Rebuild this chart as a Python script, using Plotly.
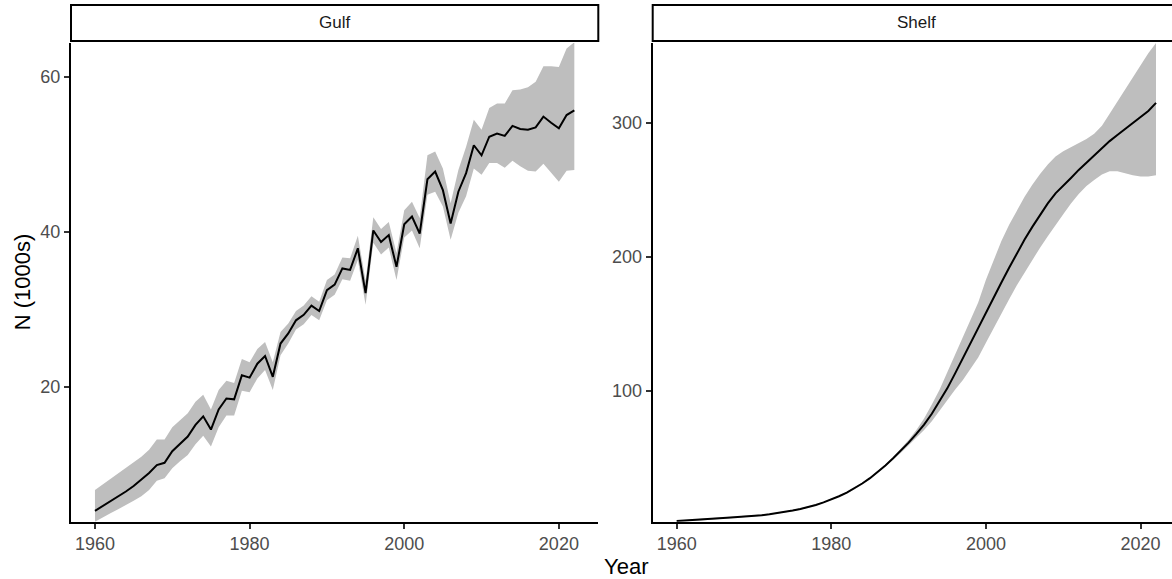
import plotly.graph_objects as go

# Years covered by both regions
years = list(range(1960, 2023))

# Gulf: estimated abundance (thousands) with interval bounds
gulf_mean = [4.0, 4.6, 5.3, 5.9, 6.5, 7.2, 8.0, 8.9, 9.9, 10.2,
             11.7, 12.6, 13.6, 15.1, 16.2, 14.5, 17.1, 18.5, 18.4, 21.5,
             21.2, 23.0, 24.0, 21.3, 25.6, 26.9, 28.6, 29.3, 30.5, 29.8,
             32.5, 33.2, 35.3, 35.1, 37.9, 32.1, 40.2, 38.7, 39.6, 35.5,
             41.0, 42.0, 39.8, 46.8, 47.8, 45.4, 41.1, 45.2, 47.6, 51.2,
             49.9, 52.3, 52.7, 52.4, 53.7, 53.3, 53.2, 53.5, 54.9, 54.1,
             53.4, 55.1, 55.7]
gulf_upper = [6.7, 7.4, 8.1, 8.8, 9.5, 10.2, 11.0, 11.9, 13.2, 13.2,
              14.8, 15.7, 16.6, 18.1, 19.0, 17.1, 19.6, 20.8, 20.5, 23.6,
              23.2, 24.9, 25.8, 23.2, 27.1, 28.2, 29.8, 30.5, 31.7, 31.0,
              33.8, 34.5, 36.7, 36.6, 39.5, 33.7, 41.9, 40.4, 41.3, 37.3,
              42.8, 43.9, 41.8, 49.9, 50.4, 48.2, 43.7, 48.0, 51.0, 54.5,
              53.2, 56.0, 56.6, 56.6, 58.3, 58.4, 58.7, 59.4, 61.4, 61.4,
              61.3, 63.7, 64.5]
gulf_lower = [2.6, 3.1, 3.7, 4.2, 4.7, 5.3, 5.9, 6.7, 7.9, 8.2,
              9.5, 10.4, 11.2, 12.6, 13.7, 12.3, 14.8, 16.3, 16.3, 19.5,
              19.3, 21.1, 22.2, 19.6, 24.1, 25.6, 27.4, 28.1, 29.3, 28.6,
              31.2, 31.9, 33.9, 33.7, 36.4, 30.6, 38.6, 37.1, 38.0, 33.8,
              39.3, 40.2, 37.9, 44.8, 45.2, 43.3, 39.0, 42.5, 44.6, 48.2,
              47.4, 48.9, 48.9, 48.3, 49.2, 48.5, 47.9, 47.8, 48.8, 47.6,
              46.5, 47.9, 48.0]

# Shelf: estimated abundance (thousands) with interval bounds
shelf_mean = [3.0, 3.3, 3.7, 4.1, 4.5, 4.9, 5.3, 5.7, 6.0, 6.3,
              6.8, 7.3, 8.0, 8.8, 9.8, 10.8, 12.0, 13.4, 15.0, 16.9,
              19.0, 21.5, 24.2, 27.4, 31.0, 35.0, 39.6, 44.5, 49.8, 55.5,
              61.5, 68.0, 75.0, 83.0, 92.0, 102.0, 113.0, 124.5, 136.0, 147.5,
              159.0, 170.0, 181.0, 192.0, 203.0, 213.0, 222.5, 231.5, 240.0, 247.5,
              253.0, 259.0, 265.0, 270.5, 276.0, 281.5, 286.5, 291.0, 295.5, 299.5,
              304.0, 309.0, 315.0]
shelf_upper = [3.4, 3.9, 4.4, 4.9, 5.3, 5.6, 5.9, 6.2, 6.5, 6.8,
               7.3, 7.8, 8.5, 9.3, 10.3, 11.3, 12.5, 13.9, 15.5, 17.4,
               19.5, 22.0, 24.7, 27.9, 31.5, 35.5, 40.2, 45.2, 50.7, 56.8,
               63.5, 71.0, 79.5, 90.0, 101.0, 114.0, 127.0, 140.0, 153.0, 166.0,
               183.0, 198.0, 212.0, 224.0, 235.0, 245.0, 254.0, 262.0, 269.0, 275.0,
               279.0, 282.0, 285.0, 288.0, 292.0, 298.0, 307.0, 316.0, 325.0, 334.0,
               343.0, 352.0, 359.7]
shelf_lower = [2.5, 2.8, 3.1, 3.4, 3.8, 4.2, 4.7, 5.2, 5.6, 5.9,
               6.4, 6.9, 7.6, 8.3, 9.3, 10.3, 11.5, 12.9, 14.5, 16.4,
               18.5, 21.0, 23.6, 26.8, 30.4, 34.4, 38.9, 43.7, 48.8, 54.0,
               59.5, 65.0, 71.0, 77.5, 85.0, 93.0, 101.0, 108.0, 116.0, 125.0,
               136.0, 147.0, 158.0, 168.5, 179.0, 189.0, 198.0, 207.0, 215.5, 224.0,
               232.0, 240.0, 247.0, 253.0, 257.5, 261.5, 264.0, 264.0, 262.5, 261.0,
               260.0, 260.0, 261.0]

panels = ["Gulf", "Shelf"]
x_ticks = [1960, 1980, 2000, 2020]
gulf_ticks = [20, 40, 60]
shelf_ticks = [100, 200, 300]

W, H = 1172, 579
FONT = "Liberation Sans, Arial, sans-serif"
BAND = "#bebebe"

# panel geometry in pixels
panel_top, panel_bot = 43, 521.7
gulf_x0, gulf_x1 = 71, 598.3
shelf_x0, shelf_x1 = 652.7, 1172
px_per_year = (gulf_x1 - gulf_x0) / (2025.1 - 1956.9)


def px(v):
    return v / W


def py(v):
    return 1 - v / H


fig = go.Figure()

series = [
    ("x", "y", gulf_mean, gulf_lower, gulf_upper),
    ("x2", "y2", shelf_mean, shelf_lower, shelf_upper),
]
for xa, ya, mean, lower, upper in series:
    fig.add_trace(go.Scatter(
        x=years + years[::-1], y=upper + lower[::-1],
        fill="toself", fillcolor=BAND, line=dict(width=0),
        mode="lines", hoverinfo="skip", showlegend=False,
        xaxis=xa, yaxis=ya))
    fig.add_trace(go.Scatter(
        x=years, y=mean, mode="lines",
        line=dict(color="black", width=2),
        showlegend=False, xaxis=xa, yaxis=ya))

axis_common = dict(
    showgrid=False, zeroline=False, showline=True, linecolor="black",
    linewidth=2, ticks="outside", ticklen=5, tickwidth=2, tickcolor="#333333",
    tickfont=dict(family=FONT, size=18, color="#4d4d4d"), automargin=False,
)

shelf_xmax = 1956.9 + (shelf_x1 - shelf_x0) / px_per_year

fig.update_layout(
    width=W, height=H,
    margin=dict(l=0, r=0, t=0, b=0),
    paper_bgcolor="white", plot_bgcolor="white",
    font=dict(family=FONT),
    xaxis=dict(domain=[px(gulf_x0), px(gulf_x1)], range=[1956.9, 2025.1],
               tickvals=x_ticks, anchor="y", **axis_common),
    yaxis=dict(domain=[py(panel_bot), py(panel_top)], range=[2.6, 64.4],
               tickvals=gulf_ticks, anchor="x", **axis_common),
    xaxis2=dict(domain=[px(shelf_x0), px(shelf_x1)], range=[1956.9, shelf_xmax],
                tickvals=x_ticks, anchor="y2", **axis_common),
    yaxis2=dict(domain=[py(panel_bot), py(panel_top)], range=[2.5, 359.7],
                tickvals=shelf_ticks, anchor="x2", **axis_common),
)

# facet strips
strip_top, strip_bot = 5, 41
for name, x0, x1 in [(panels[0], gulf_x0, gulf_x1), (panels[1], shelf_x0, 1180)]:
    fig.add_shape(type="rect", xref="paper", yref="paper",
                  x0=px(x0), x1=px(x1), y0=py(strip_bot), y1=py(strip_top),
                  line=dict(color="black", width=2), fillcolor="white")
    fig.add_annotation(text=name, xref="paper", yref="paper",
                       x=px((x0 + x1) / 2), y=py((strip_top + strip_bot) / 2),
                       showarrow=False, xanchor="center", yanchor="middle",
                       font=dict(family=FONT, size=17, color="#1a1a1a"))

# axis titles
fig.add_annotation(text="Year", xref="paper", yref="paper",
                   x=px((gulf_x0 + 1180) / 2), y=py(566),
                   showarrow=False, xanchor="center", yanchor="middle",
                   font=dict(family=FONT, size=22, color="black"))
fig.add_annotation(text="N (1000s)", xref="paper", yref="paper",
                   x=px(22), y=py((panel_top + panel_bot) / 2), textangle=-90,
                   showarrow=False, xanchor="center", yanchor="middle",
                   font=dict(family=FONT, size=22, color="black"))

fig.write_html("out.html")
